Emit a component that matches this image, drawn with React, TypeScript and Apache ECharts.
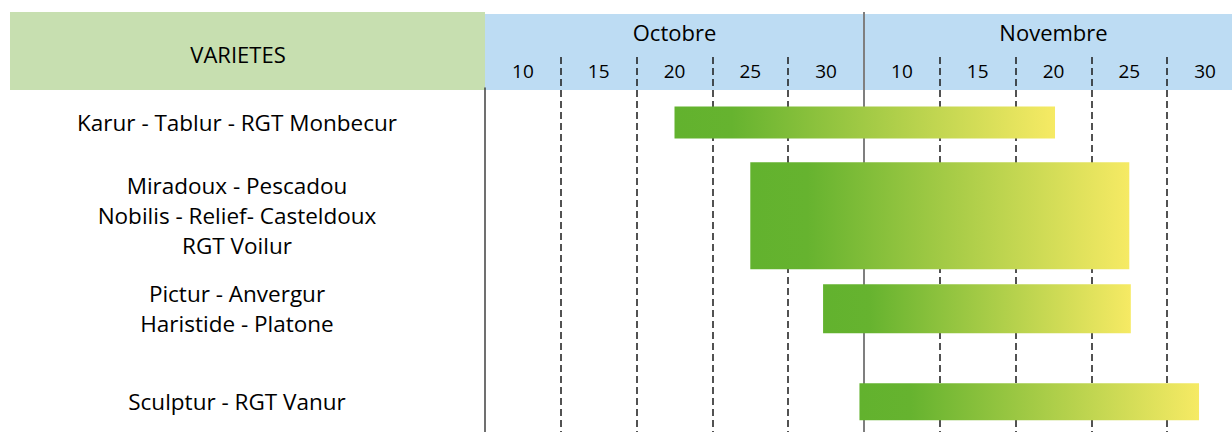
import React, { useEffect, useRef } from "react";
import * as echarts from "echarts";

// ---- data ----
const months = ["Octobre", "Novembre"];
const dayTicks = ["10", "15", "20", "25", "30", "10", "15", "20", "25", "30"];
const varieties = [
  "Karur - Tablur - RGT Monbecur",
  "Miradoux - Pescadou\nNobilis - Relief- Casteldoux\nRGT Voilur",
  "Pictur - Anvergur\nHaristide - Platone",
  "Sculptur - RGT Vanur",
];
// schematic day scale: October day d -> d, November day d -> d + 25
const startDay = [20, 25, 29.8, 32.2];
const endDay = [45.1, 50, 50.1, 54.6];

// ---- styles ----
const FONT = "'Open Sans', 'Noto Sans', sans-serif";
const barThickness = [32, 107, 49, 37];
const LEFT = 485;
const PLOT_W = 758;
const INNER_W = 1250;
const INNER_H = 450;

export default function App() {
  const ref = useRef<HTMLDivElement>(null);
  useEffect(() => {
    document.body.style.margin = "0";
    const chart = echarts.init(ref.current!, null, { renderer: "svg" });
    const data = varieties.map((_, i) => [i, startDay[i], endDay[i]]);
    const gradient = () =>
      new echarts.graphic.LinearGradient(0, 0, 1, 0, [
        { offset: 0, color: "#62b22e" },
        { offset: 0.15, color: "#66b32f" },
        { offset: 1, color: "#f6ea64" },
      ]);
    const dashedColors = dayTicks.map((_, i) => (i === 0 ? "transparent" : "#1a1a1a"));
    chart.setOption({
      animation: false,
      textStyle: { fontFamily: FONT },
      graphic: [
        { type: "rect", z: -10, shape: { x: 10, y: 12, width: LEFT - 10, height: 78 }, style: { fill: "#c7dfb0" } },
        { type: "rect", z: -10, shape: { x: LEFT, y: 14, width: INNER_W - LEFT, height: 76 }, style: { fill: "#bddcf3" } },
        {
          type: "text",
          x: 238,
          y: 54,
          style: { text: "VARIETES", fontSize: 22, fontFamily: FONT, fill: "#000", align: "center", verticalAlign: "middle" },
        },
      ],
      grid: [
        { left: LEFT, width: PLOT_W, top: 12, bottom: 0 },
        { left: LEFT, width: PLOT_W, top: 57, bottom: 0 },
        { left: LEFT, width: PLOT_W, top: 76, height: 372.4 },
        { left: LEFT, width: PLOT_W, top: 88, bottom: 0 },
      ],
      xAxis: [
        {
          gridIndex: 0,
          type: "category",
          data: months,
          position: "top",
          z: 3,
          axisLine: { show: false },
          axisTick: { show: false },
          axisLabel: { inside: true, margin: 9, fontSize: 22, color: "#000", fontFamily: FONT },
          splitLine: { show: true, lineStyle: { color: ["transparent", "#7f7f7f", "transparent"], width: 2, type: "solid" } },
        },
        {
          gridIndex: 1,
          type: "category",
          data: dayTicks,
          position: "top",
          axisLine: { show: false },
          axisTick: { show: false },
          axisLabel: { inside: true, margin: 4, fontSize: 19, color: "#000", fontFamily: FONT, interval: 0 },
          splitLine: { show: true, interval: 0, lineStyle: { color: dashedColors, width: 1.5, type: [7, 4] } },
        },
        { gridIndex: 2, type: "value", min: 7.5, max: 57.5, show: false },
        { gridIndex: 3, type: "value", show: false },
      ],
      yAxis: [
        { gridIndex: 0, type: "value", show: false },
        { gridIndex: 1, type: "value", show: false },
        {
          gridIndex: 2,
          type: "category",
          data: varieties,
          inverse: true,
          axisLine: { show: false },
          axisTick: { show: false },
          splitLine: { show: false },
          axisLabel: { align: "center", margin: 248, fontSize: 22.5, lineHeight: 30, color: "#000", fontFamily: FONT },
        },
        {
          gridIndex: 3,
          type: "value",
          axisLine: { show: true, lineStyle: { color: "#404040", width: 1.5 } },
          axisTick: { show: false },
          axisLabel: { show: false },
          splitLine: { show: false },
        },
      ],
      series: [
        {
          type: "custom",
          xAxisIndex: 2,
          yAxisIndex: 2,
          z: 5,
          encode: { x: [1, 2], y: 0 },
          data,
          renderItem: (params: any, api: any) => {
            const idx = api.value(0);
            const s = api.coord([api.value(1), idx]);
            const e = api.coord([api.value(2), idx]);
            const h = barThickness[idx];
            return {
              type: "rect",
              shape: { x: s[0], y: s[1] - h / 2, width: e[0] - s[0], height: h },
              style: { fill: gradient() },
            };
          },
        },
      ],
    });
    return () => chart.dispose();
  }, []);
  return (
    <div style={{ width: 1232, height: 432, overflow: "hidden", position: "relative" }}>
      <div ref={ref} style={{ width: INNER_W, height: INNER_H }} />
    </div>
  );
}
